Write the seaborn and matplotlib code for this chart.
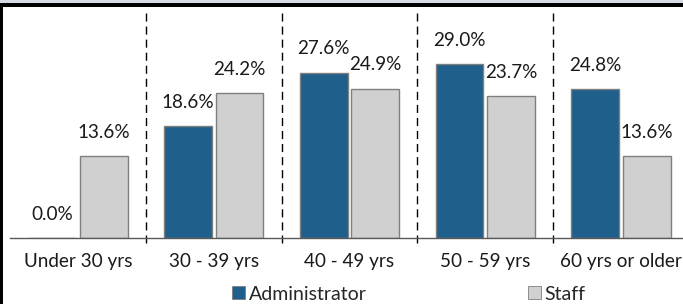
import matplotlib
matplotlib.use("Agg")
import matplotlib.pyplot as plt
from matplotlib.patches import Rectangle, Patch
import pandas as pd
import seaborn as sns

# chart data
age_groups = ["Under 30 yrs", "30 - 39 yrs", "40 - 49 yrs", "50 - 59 yrs", "60 yrs or older"]
administrator = [0.0, 18.6, 27.6, 29.0, 24.8]
staff = [13.6, 24.2, 24.9, 23.7, 13.6]
series_names = ["Administrator", "Staff"]
palette = {"Administrator": "#1f5f8b", "Staff": "#d0d0d0"}

df = pd.DataFrame({
    "age": age_groups * 2,
    "pct": administrator + staff,
    "group": [series_names[0]] * len(age_groups) + [series_names[1]] * len(age_groups),
})

sns.set_theme(style="white")
plt.rcParams["font.family"] = ["Lato", "DejaVu Sans"]

W, H = 683, 304
fig = plt.figure(figsize=(W / 100, H / 100), dpi=100)
fig.patch.set_facecolor("white")
# axes spans x 10..689 px, y 12..238 px (runs slightly past the right edge, as in the original crop)
ax = fig.add_axes([10 / W, (H - 238) / H, (689 - 10) / W, (238 - 12) / H])

sns.barplot(data=df, x="age", y="pct", hue="group", palette=palette,
            saturation=1, width=0.76, gap=0.07, edgecolor="#7f7f7f", linewidth=1,
            legend=False, ax=ax)

ax.set_ylim(0, 37.7)
ax.set_xlim(-0.5, len(age_groups) - 0.5)

for cont in ax.containers:
    ax.bar_label(cont, fmt="%.1f%%", padding=11, fontsize=13.6, color="#1a1a1a")

# category separators
for b in [i + 0.5 for i in range(len(age_groups) - 1)]:
    ax.axvline(b, ymin=-5 / 226, ymax=1, color="black", lw=1,
               ls=(0, (5.8, 3.6)), clip_on=False)

ax.set_yticks([])
ax.set_xlabel("")
ax.set_ylabel("")
ax.set_xticks(range(len(age_groups)))
ax.set_xticklabels(age_groups, fontsize=13.6, color="#1a1a1a")
ax.tick_params(axis="x", which="major", length=0, pad=11)
ax.set_xticks([-0.5], minor=True)
ax.tick_params(axis="x", which="minor", direction="inout", length=7,
               width=1, color="#595959")

for s in ["left", "top", "right"]:
    ax.spines[s].set_visible(False)
ax.spines["bottom"].set_color("#595959")
ax.spines["bottom"].set_linewidth(1)

handles = [Patch(facecolor=palette[n], edgecolor="#7f7f7f", linewidth=0.6) for n in series_names]
fig.legend(handles, series_names, loc="center", bbox_to_anchor=(409 / W, 10 / H),
           ncol=2, frameon=False, fontsize=14, handlelength=0.65, handleheight=0.65,
           handletextpad=0.2, columnspacing=8.3, borderaxespad=0)

# page frame remnants from the source document
fig.add_artist(Rectangle((0, (H - 3) / H), 1, 3 / H, transform=fig.transFigure,
                         facecolor="#d6dbe4", edgecolor="none"))
fig.add_artist(Rectangle((0, (H - 7) / H), 1, 4 / H, transform=fig.transFigure,
                         facecolor="black", edgecolor="none"))
fig.add_artist(Rectangle((0, 0), 3 / W, (H - 3) / H, transform=fig.transFigure,
                         facecolor="black", edgecolor="none"))

fig.savefig("out.png", dpi=100)
